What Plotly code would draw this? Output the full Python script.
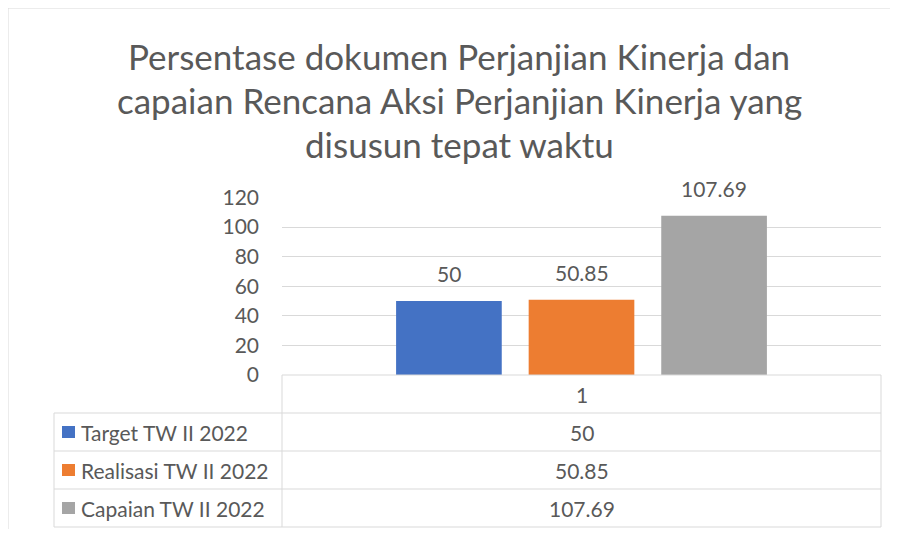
import plotly.graph_objects as go

# ---- data ----
CATEGORIES = ["1"]
SERIES_NAMES = ["Target TW II 2022", "Realisasi TW II 2022", "Capaian TW II 2022"]
TARGET = [50]
REALISASI = [50.85]
CAPAIAN = [107.69]
SERIES_VALUES = [TARGET, REALISASI, CAPAIAN]
SERIES_COLORS = ["#4472C4", "#ED7D31", "#A5A5A5"]
Y_TICKS = [0, 20, 40, 60, 80, 100, 120]
TITLE_LINES = [
    "Persentase dokumen Perjanjian Kinerja dan",
    "capaian Rencana Aksi Perjanjian Kinerja yang",
    "disusun tepat waktu",
]

# page body has an 8px margin -> figure is placed at (8,8)
OX, OY = 8, 8
W, H = 882, 521
FONT = "Lato"
TXT = "#595959"
GRID = "#d9d9d9"


def xp(px):
    return (px - OX) / W


def yp(py):
    return 1 - (py - OY) / H


# layout geometry (reference pixels)
PL, PR = 282, 881          # plot area left/right
P_TOP, P_BOT = 197.5, 375  # y of 120 and 0
T_LEFT = 54                # table left edge
ROW_H = 38                 # table row height
BARGAP, BARGROUPGAP = 0.336, 0.203

fig = go.Figure()
for name, vals, col in zip(SERIES_NAMES, SERIES_VALUES, SERIES_COLORS):
    fig.add_trace(go.Bar(
        x=CATEGORIES, y=vals, name=name, marker_color=col,
        marker_line_width=0, showlegend=False, hoverinfo="x+y+name",
    ))

shapes = []
annotations = []

# value labels above bars
n = len(SERIES_VALUES)
slot = (1 - BARGAP) / n
for i, vals in enumerate(SERIES_VALUES):
    for ci, v in enumerate(vals):
        annotations.append(dict(
            text=f"{v:g}", xref="x", yref="y",
            x=ci - (1 - BARGAP) / 2 + slot * (i + 0.5), y=v,
            yanchor="bottom", xanchor="center", yshift=13, showarrow=False,
            font=dict(family=FONT, size=21, color=TXT)))

# outer chart border
shapes.append(dict(type="rect", xref="paper", yref="paper",
                   x0=xp(8), x1=xp(910), y0=yp(8), y1=yp(550),
                   line=dict(color=GRID, width=1)))

# data table lines
rows_y = [P_BOT + i * ROW_H for i in range(len(SERIES_NAMES) + 2)]
shapes.append(dict(type="line", xref="paper", yref="paper",
                   x0=xp(PL), x1=xp(PR), y0=yp(rows_y[0]), y1=yp(rows_y[0]),
                   line=dict(color=GRID, width=1)))
for ry in rows_y[1:]:
    shapes.append(dict(type="line", xref="paper", yref="paper",
                       x0=xp(T_LEFT), x1=xp(PR), y0=yp(ry), y1=yp(ry),
                       line=dict(color=GRID, width=1)))
shapes.append(dict(type="line", xref="paper", yref="paper",
                   x0=xp(PL), x1=xp(PL), y0=yp(rows_y[0]), y1=yp(rows_y[-1]),
                   line=dict(color=GRID, width=1)))
shapes.append(dict(type="line", xref="paper", yref="paper",
                   x0=xp(PR), x1=xp(PR), y0=yp(rows_y[0]), y1=yp(rows_y[-1]),
                   line=dict(color=GRID, width=1)))
shapes.append(dict(type="line", xref="paper", yref="paper",
                   x0=xp(T_LEFT), x1=xp(T_LEFT), y0=yp(rows_y[1]), y1=yp(rows_y[-1]),
                   line=dict(color=GRID, width=1)))

col_center = (PL + PR) / 2
annotations.append(dict(text=CATEGORIES[0], xref="paper", yref="paper",
                        x=xp(col_center), y=yp((rows_y[0] + rows_y[1]) / 2),
                        showarrow=False, xanchor="center", yanchor="middle",
                        font=dict(family=FONT, size=21, color=TXT)))
for i, (name, vals, col) in enumerate(zip(SERIES_NAMES, SERIES_VALUES, SERIES_COLORS)):
    cy = (rows_y[i + 1] + rows_y[i + 2]) / 2
    shapes.append(dict(type="rect", xref="paper", yref="paper",
                       x0=xp(62), x1=xp(75), y0=yp(cy - 6), y1=yp(cy + 6),
                       fillcolor=col, line=dict(width=0)))
    annotations.append(dict(text=name, xref="paper", yref="paper",
                            x=xp(79), y=yp(cy), showarrow=False,
                            xanchor="left", yanchor="middle",
                            font=dict(family=FONT, size=21, color=TXT)))
    annotations.append(dict(text=f"{vals[0]:g}", xref="paper", yref="paper",
                            x=xp(col_center), y=yp(cy), showarrow=False,
                            xanchor="center", yanchor="middle",
                            font=dict(family=FONT, size=21, color=TXT)))

# title lines
title_y = [56, 100, 144]
for line, ty in zip(TITLE_LINES, title_y):
    annotations.append(dict(text=line, xref="paper", yref="paper",
                            x=xp(459), y=yp(ty), showarrow=False,
                            xanchor="center", yanchor="middle",
                            font=dict(family=FONT, size=35, color=TXT)))

fig.update_layout(
    width=W, height=H,
    margin=dict(l=0, r=0, t=0, b=0, autoexpand=False),
    paper_bgcolor="white", plot_bgcolor="white",
    barmode="group", bargap=BARGAP, bargroupgap=BARGROUPGAP,
    xaxis=dict(domain=[xp(PL), xp(PR)], showticklabels=False, automargin=False,
               showgrid=False, zeroline=False, showline=False, ticks=""),
    yaxis=dict(domain=[yp(P_BOT), yp(P_TOP)], range=[0, 120], automargin=False,
               tickvals=Y_TICKS, showgrid=True, gridcolor=GRID, gridwidth=1,
               zeroline=False, showline=False, ticks="",
               ticklabelstandoff=22,
               tickfont=dict(family=FONT, size=21, color=TXT)),
    shapes=shapes, annotations=annotations,
    showlegend=False,
)

fig.write_html("out.html")
